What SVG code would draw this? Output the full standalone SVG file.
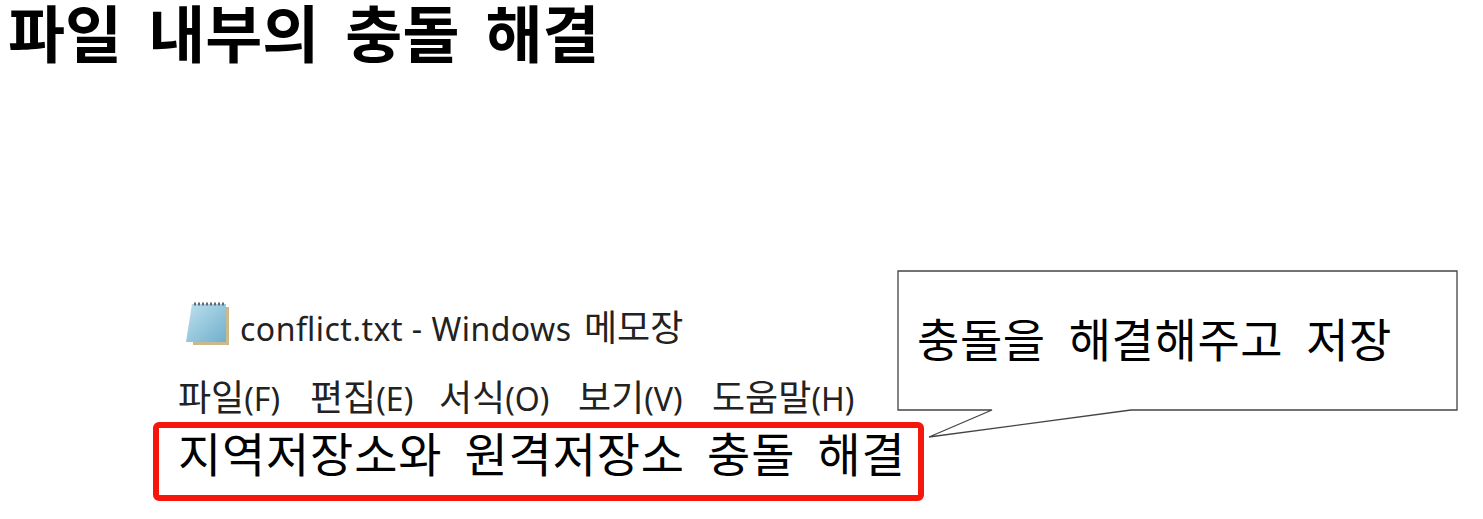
<svg xmlns="http://www.w3.org/2000/svg" width="1483" height="519" viewBox="0 0 1483 519">
<style>
text{font-family:"Noto Sans CJK KR","Noto Sans",sans-serif;fill:#000}
.m{font-size:36px;fill:#222}
.l{font-size:32px;font-family:"Noto Sans","Noto Sans CJK KR",sans-serif}
.b{font-size:47px;letter-spacing:.8px;word-spacing:11px}
</style>
<defs><linearGradient id="pad" x1="0" y1="0" x2="1" y2="1"><stop offset="0" stop-color="#bfe0ee"/><stop offset="1" stop-color="#6fb0cc"/></linearGradient></defs>
<rect width="1483" height="519" fill="#fff"/>
<text id="heading" x="8" y="58" font-size="62" font-weight="700" word-spacing="12">파일 내부의 충돌 해결</text>
<g id="icon">
<path d="M193 345H229V307H224V341H193Z" fill="#c9b98c"/>
<path d="M192 304H226V342H186Z" fill="url(#pad)"/>
<path d="M194 304H225" stroke="#667" stroke-width="3" stroke-dasharray="2 2"/>
</g>
<g id="title">
<text x="240" y="341" font-size="32" textLength="331" style="font-family:'Noto Sans',sans-serif;fill:#222">conflict.txt - Windows</text>
<text x="584" y="341" class="m">메모장</text>
</g>
<g id="menu">
<text x="178" y="411" class="m">파일<tspan class="l">(F)</tspan></text>
<text x="310" y="411" class="m">편집<tspan class="l">(E)</tspan></text>
<text x="439" y="411" class="m">서식<tspan class="l">(O)</tspan></text>
<text x="578" y="411" class="m">보기<tspan class="l">(V)</tspan></text>
<text x="712" y="411" class="m">도움말<tspan class="l">(H)</tspan></text>
</g>
<g id="highlight">
<rect x="156" y="425" width="765" height="73" rx="3" fill="none" stroke="#f5160c" stroke-width="6"/>
<text x="178" y="472" class="b">지역저장소와 원격저장소 충돌 해결</text>
</g>
<g id="callout">
<path d="M898 271H1457V410H1131L929 437L992 410H898Z" fill="#fff" stroke="#444" stroke-width="1.3"/>
<text x="917" y="357" font-size="46" letter-spacing=".6" word-spacing="12">충돌을 해결해주고 저장</text>
</g>
</svg>
